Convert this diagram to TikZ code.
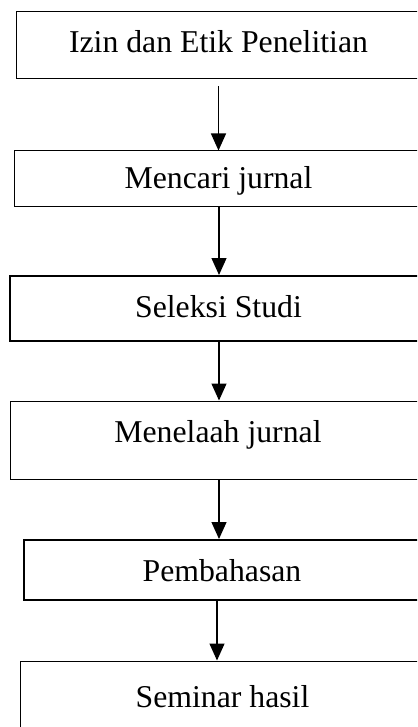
\documentclass[tikz,border=0pt]{standalone}
\usepackage{fontspec}
\setmainfont{Liberation Serif}
\usetikzlibrary{arrows.meta}
\begin{document}
\begin{tikzpicture}[x=1pt, y=-1pt,
		box/.style = {draw, line width=1pt, inner sep=0pt, text height=22pt, font=\fontsize{31.75}{38}\selectfont},
		thickbox/.style = {box, line width=2pt},
		flow/.style = {line width=1.3pt, -{Triangle[width=15pt, length=17pt]}}]
		\clip (0,0) rectangle (417,727);
		
		\coordinate (c1) at (218.5,45.5);
		\coordinate (c2) at (218.5,179);
		\coordinate (c3) at (218.5,308.5);
		\coordinate (c4) at (218,440);
		\coordinate (c5) at (222,570);
		\coordinate (c6) at (222.5,700.5);
		
		\node[box, minimum width=405pt, minimum height=67pt, text depth=8pt] (izin) at (c1) {Izin dan Etik Penelitian};
		\node[box, minimum width=409pt, minimum height=56pt, text depth=2pt] (cari) at (c2) {Mencari jurnal};
		\node[thickbox, minimum width=417pt, minimum height=65pt, text depth=5pt] (seleksi) at (c3) {Seleksi Studi};
		\node[box, minimum width=416pt, minimum height=78pt, text depth=18pt] (telaah) at (c4) {Menelaah jurnal};
		\node[thickbox, minimum width=396pt, minimum height=60pt, text depth=0pt] (bahas) at (c5) {Pembahasan};
		\node[box, minimum width=405pt, minimum height=79pt, text depth=9pt] (seminar) at (c6) {Seminar hasil};
		
		\draw[flow] ([yshift=-7pt]izin.south) -- (cari.north);
		\draw[flow] ([xshift=0.5pt]cari.south) -- ([xshift=0.5pt]seleksi.north);
		\draw[flow] ([xshift=0.5pt]seleksi.south) -- ([xshift=0.5pt]seleksi.south |- telaah.north);
		\draw[flow] ([xshift=1pt]telaah.south) -- ([xshift=1pt]telaah.south |- bahas.north);
		\draw[flow] ([xshift=-5pt]bahas.south) -- ([xshift=-5pt]bahas.south |- seminar.north);
	\end{tikzpicture}
\end{document}
